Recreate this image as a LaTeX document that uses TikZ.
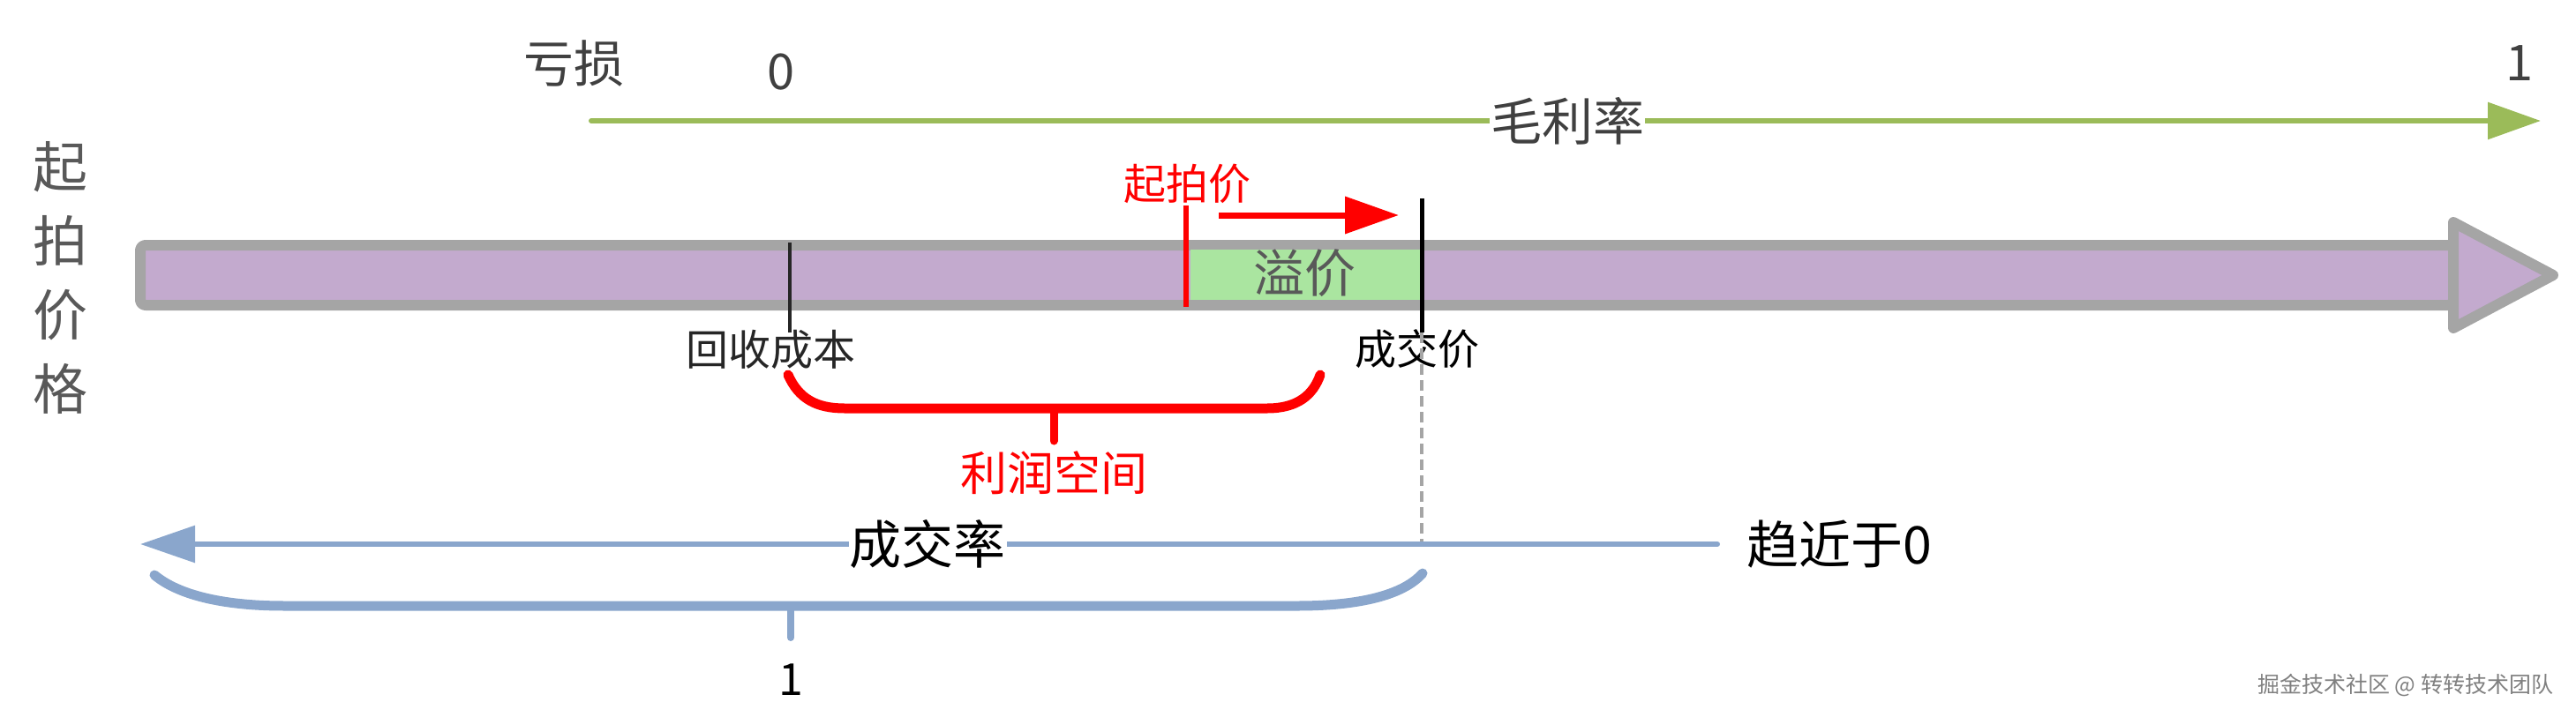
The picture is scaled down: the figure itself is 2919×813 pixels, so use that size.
\documentclass[tikz,border=0pt]{standalone}
\usepackage{fontspec}
\setmainfont{Noto Sans CJK SC}
\usetikzlibrary{arrows.meta}
\definecolor{linegreen}{RGB}{155,187,89}
\definecolor{barpurple}{RGB}{195,170,206}
\definecolor{bargray}{RGB}{165,165,165}
\definecolor{boxgreen}{RGB}{170,229,160}
\definecolor{lineblue}{RGB}{138,166,204}
\definecolor{txtgray}{RGB}{64,64,64}
\definecolor{txtgrayb}{RGB}{89,89,89}
\definecolor{wmgray}{RGB}{128,128,128}
\newcommand{\fsz}[1]{\fontsize{#1pt}{#1pt}\selectfont}
\begin{document}
\begin{tikzpicture}[x=1pt,y=-1pt,
  lbl/.style={inner sep=0pt, outer sep=0pt},
  greenarrow/.style={draw=linegreen, line width=6pt, line cap=round, -{Triangle[length=60pt,width=41pt]}},
  bluearrow/.style={draw=lineblue, line width=6pt, line cap=round, -{Triangle[length=62pt,width=41pt]}},
  redarrow/.style={draw=red, line width=7pt, -{Triangle[length=61pt,width=41pt]}},
  barstyle/.style={draw=bargray, fill=barpurple, line width=12pt, line join=round},
  redbrace/.style={draw=red, line width=11pt, line cap=round},
  bluebrace/.style={draw=lineblue, line width=11pt, line cap=round},
  marker/.style={line width=5pt}
]
\useasboundingbox (0,0) rectangle (2919,813);

% top scale
\node[lbl, text=txtgray, font=\fsz{57}] (kuisun) at (650,72) {亏损};
\node[lbl, text=txtgray, font=\fsz{56}] (zero) at (885,82) {0};
\node[lbl, text=txtgray, font=\fsz{56}] (one) at (2855,72) {1};
\coordinate (gs) at (670,137);
\coordinate (ge) at (2879,137);
\draw[greenarrow] (gs) -- (ge);
\node[fill=white, inner sep=1pt, text=txtgray, font=\fsz{58}] (mll) at (1776,137) {毛利率};

% vertical label
\node[lbl, text=txtgrayb, font=\fontsize{62pt}{84pt}\selectfont, align=center] (qpjg) at (68,315) {起\\拍\\价\\格};

% main bar
\draw[barstyle, rounded corners=6pt] (159,278) rectangle (2780,346);
\draw[barstyle] (2780,252) -- (2893,312) -- (2780,372) -- cycle;
\fill[boxgreen] (1349,283) rectangle (1609,340);
\node[lbl, text=txtgrayb, font=\fsz{58}] (yijia) at (1478,310) {溢价};

% labels under bar
\node[lbl, text=black!85, font=\fsz{48}] (hscb) at (873,396) {回收成本};
\node[lbl, text=black, font=\fsz{47}] (cjj) at (1606,396) {成交价};

% markers
\coordinate (m1t) at (895,275); \coordinate (m1b) at (895,377);
\draw[marker, black!85, line width=4pt] (m1t) -- (m1b);
\coordinate (m2t) at (1611,225); \coordinate (m2b) at (1611,377);
\draw[marker, black] (m2t) -- (m2b);
\coordinate (m3t) at (1344,233); \coordinate (m3b) at (1344,348);
\draw[marker, red, line width=6pt] (m3t) -- (m3b);
\coordinate (m2d) at (1611,617);
\draw[bargray, line width=4pt, dash pattern=on 12pt off 6pt] (m2b) -- (m2d);

% start price arrow
\node[lbl, text=red, font=\fsz{48}] (qpj) at (1345,208) {起拍价};
\coordinate (ras) at (1381,244); \coordinate (rae) at (1585,244);
\draw[redarrow] (ras) -- (rae);

% red brace
\draw[redbrace] (893,425) .. controls (905,452) and (925,463) .. (957,463) -- (1436,463) .. controls (1470,463) and (1488,448) .. (1496,425);
\coordinate (rbt) at (1194,463); \coordinate (rbb) at (1194,500);
\draw[redbrace, line width=9pt] (rbt) -- (rbb);
\node[lbl, text=red, font=\fsz{53}] (lrkj) at (1194,536) {利润空间};

% blue arrow
\coordinate (bs) at (1946,617); \coordinate (be) at (159,617);
\draw[bluearrow] (bs) -- (be);
\node[fill=white, inner sep=1pt, text=black, font=\fsz{59}] (cjl) at (1051,617) {成交率};
\node[lbl, anchor=west, text=black, font=\fsz{59}] (qjy) at (1979,617) {趋近于0};

% blue brace
\draw[bluebrace] (175,652) .. controls (205,677) and (260,687) .. (322,687) -- (1470,687) .. controls (1540,687) and (1590,675) .. (1612,650);
\coordinate (bbt) at (896,687); \coordinate (bbb) at (896,723);
\draw[bluebrace, line width=8pt] (bbt) -- (bbb);
\node[lbl, text=black, font=\fsz{50}] (bone) at (896,771) {1};

% watermark
\node[lbl, anchor=east, text=wmgray, font=\fsz{25}] (wm) at (2893,777) {掘金技术社区 @ 转转技术团队};
\end{tikzpicture}
\end{document}
